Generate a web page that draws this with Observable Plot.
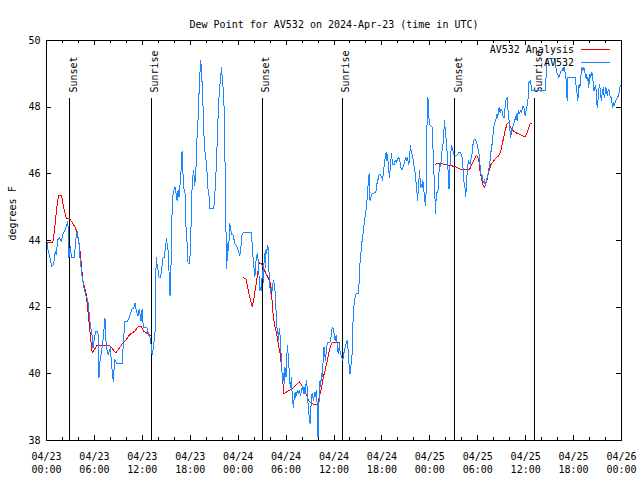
<!DOCTYPE html>
<html><head><meta charset="utf-8">
<script src="https://cdn.jsdelivr.net/npm/d3@7"></script>
<script src="https://cdn.jsdelivr.net/npm/@observablehq/plot@0.6"></script>
<style>body{margin:0;background:#fff}</style>
</head><body><div id="chart"></div>
<script>
const titleText = "Dew Point for AV532 on 2024-Apr-23 (time in UTC)";
const yLabel = "degrees F";
const startUTC = Date.UTC(2024, 3, 23, 0, 0);

// Observations (hours since 2024-04-23 00:00 UTC, degrees F)
const blueHours = [0,0.17,0.38,0.67,0.88,1.09,1.21,1.42,1.63,1.84,2.05,2.3,2.55,2.68,2.8,2.97,3.14,3.47,3.72,3.85,4.06,4.23,4.48,4.69,4.9,5.19,5.36,5.48,5.69,5.82,6.15,6.44,6.53,6.57,6.69,6.9,7.11,7.32,7.49,7.74,7.99,8.24,8.37,8.54,8.83,9.5,9.62,9.83,10.17,10.33,10.5,10.67,10.92,11.09,11.26,11.46,11.59,11.72,11.84,11.97,12.13,12.59,12.76,13.01,13.22,13.39,13.56,13.68,
13.72,13.84,13.97,14.09,14.3,14.39,14.51,14.6,14.76,14.85,14.93,15.01,15.1,15.22,15.31,15.39,15.47,15.52,15.6,15.68,15.85,15.98,16.1,16.23,16.35,16.48,16.6,16.69,16.81,16.9,16.98,17.11,17.23,17.36,17.44,17.57,17.65,17.73,17.94,18.03,18.11,18.19,18.32,18.4,18.49,18.57,18.65,18.78,18.86,18.99,19.07,19.16,19.24,19.32,19.41,19.49,19.57,19.66,19.74,19.87,19.99,20.12,20.24,20.37,20.45,20.95,21.04,21.16,21.29,21.41,21.54,21.66,21.79,21.92,22.0,22.08,22.17,22.25,22.33,22.38,22.42,22.5,22.54,22.63,22.71,22.79,22.88,
22.96,23.17,23.38,23.59,23.8,24.0,24.21,24.34,24.47,24.55,25.05,25.64,25.72,25.8,25.89,26.01,26.1,26.18,26.31,26.39,26.52,26.64,26.72,26.81,26.93,27.02,27.14,27.23,27.31,27.39,27.48,27.56,27.64,27.73,27.81,27.9,27.98,28.06,28.15,28.27,28.4,28.52,28.61,28.69,28.82,28.9,28.98,29.07,29.15,29.23,29.32,29.4,29.48,29.57,29.65,29.78,29.86,29.99,30.11,30.2,30.28,30.36,30.49,30.57,30.66,30.74,30.82,30.91,30.99,31.07,31.16,31.24,31.32,31.41,31.53,31.66,31.83,31.95,32.08,32.16,32.24,32.37,32.5,32.58,32.66,32.75,32.83,32.91,33.0,33.08,33.17,33.25,33.33,33.42,33.5,33.62,33.75,33.83,33.92,34.0,34.08,34.17,34.25,34.34,34.42,34.5,34.59,34.67,34.75,34.84,34.92,35.0,35.09,35.17,35.51,35.63,35.72,35.8,35.93,36.01,36.13,36.26,36.39,36.47,36.55,36.68,36.76,
36.97,37.09,37.26,37.39,37.51,37.68,37.8,37.93,38.01,38.14,38.27,38.35,38.43,38.52,38.64,38.77,39.06,39.19,39.27,39.4,39.52,39.69,39.81,39.94,40.06,40.19,40.31,40.4,40.44,40.52,40.61,40.77,41.15,41.28,41.36,41.49,41.57,41.7,41.78,41.86,41.99,42.07,42.2,42.32,42.45,42.53,42.62,42.7,42.82,42.95,43.08,43.2,43.28,43.37,43.54,43.66,43.79,43.95,44.12,44.29,44.41,44.54,44.71,44.87,45.0,45.12,45.21,45.33,45.46,45.54,45.67,45.79,45.88,45.96,46.13,46.25,46.38,46.46,46.55,46.63,46.71,46.8,46.88,46.97,47.05,47.13,47.22,47.3,47.38,47.47,47.55,47.59,47.68,47.76,47.84,47.93,48.3,48.39,48.47,48.55,48.64,48.72,48.8,49.01,49.1,49.18,49.27,
49.44,49.56,49.73,49.81,49.9,49.98,50.06,50.15,50.23,50.31,50.4,50.48,50.56,50.65,50.73,50.82,50.98,51.32,51.65,51.82,51.99,52.07,52.15,52.24,52.32,52.4,52.49,52.57,52.66,52.74,52.82,52.91,52.99,53.07,53.16,53.24,53.33,53.41,53.49,53.58,53.74,53.83,53.91,53.99,54.08,54.16,54.25,54.33,54.41,54.5,54.58,54.66,54.75,54.83,54.91,55.0,55.08,55.17,55.29,55.42,55.5,55.58,55.67,55.75,55.83,55.92,56.0,56.09,56.21,56.34,56.42,56.5,56.59,56.67,56.75,56.84,56.92,57.01,57.09,57.17,57.26,57.34,57.42,57.51,57.59,57.67,57.76,57.84,57.93,58.01,58.09,58.18,58.26,58.34,58.43,58.51,58.59,58.68,58.76,58.85,58.93,59.01,59.1,59.18,59.26,59.35,59.43,59.51,59.6,59.68,59.77,59.85,59.93,60.02,60.1,60.18,60.27,60.35,60.43,60.52,60.6,60.69,60.77,62.44,62.53,62.61,62.69,63.66,63.74,63.87,63.95,64.03,64.16,64.28,64.45,64.58,64.7,64.79,64.87,64.95,65.04,65.12,65.2,65.29,66.21,66.29,66.37,66.46,66.54,66.62,66.71,66.79,66.88,66.96,67.04,67.13,67.21,67.29,67.38,67.46,67.55,67.63,67.71,67.8,67.88,67.97,68.05,68.13,68.22,68.3,68.38,68.47,68.55,68.63,68.72,68.8,68.88,68.97,69.05,69.13,69.22,69.3,69.39,69.47,69.55,69.64,69.72,69.8,69.89,69.97,70.05,70.14,70.22,70.3,70.39,70.47,70.56,70.64,70.72,70.81,70.89,70.97,71.06,71.14,71.22,71.48,71.64,71.73,71.81,71.89,71.98];
const blueValues = [44.03,43.73,43.53,43.23,43.28,43.68,43.58,44.03,44.08,43.98,44.18,44.3,44.48,44.57,43.48,43.83,43.48,43.48,44.13,44.28,43.93,43.38,42.88,42.58,42.38,42.18,41.78,41.48,41.18,40.78,41.28,41.28,40.58,39.88,40.38,40.68,41.08,41.68,40.78,40.58,40.78,40.03,39.78,40.43,40.3,40.3,40.98,41.58,41.58,41.68,41.78,41.93,41.98,42.13,41.88,41.73,41.93,41.78,41.58,41.93,41.38,41.38,41.18,41.08,40.58,40.78,41.18,41.48,
43.5,43.3,43.1,42.9,42.9,43.1,43.3,43.5,43.5,43.7,43.8,44.05,43.9,43.7,43.3,42.7,42.35,43.1,43.3,44.6,45.4,45.54,45.61,45.4,45.2,45.5,45.3,45.6,45.89,46.39,46.69,45.89,45.5,45.4,44.5,44.1,43.6,43.3,43.3,44.0,44.5,45.4,45.89,46.09,45.94,45.64,45.99,46.39,47.19,47.69,48.19,48.89,49.09,49.41,49.09,48.69,48.19,47.69,46.99,46.59,46.39,45.99,45.49,45.3,44.95,44.95,45.3,45.69,46.39,47.19,48.09,48.49,48.89,49.19,48.89,48.69,48.39,47.89,46.89,45.69,44.7,44.1,43.15,43.5,43.9,43.7,44.1,
44.5,44.2,44.15,43.9,43.85,43.7,43.55,43.8,44.15,44.22,44.25,44.25,44.0,43.7,43.4,43.1,42.9,43.3,43.5,43.6,43.4,42.8,42.5,42.6,42.5,43.1,42.75,43.3,43.6,43.2,43.7,43.6,43.8,43.85,43.4,42.8,42.6,42.4,42.6,42.5,42.8,42.7,42.5,42.1,41.6,41.2,41.3,41.0,41.35,41.2,40.8,40.5,40.1,39.8,40.0,39.7,40.2,39.9,40.6,40.85,40.4,40.2,39.7,39.6,39.9,39.5,39.2,39.0,39.2,39.4,39.3,39.46,39.36,39.51,39.41,39.51,39.36,39.56,39.61,39.41,39.61,39.41,39.71,39.8,39.5,39.11,38.81,38.71,38.51,38.91,39.21,39.41,39.31,39.21,39.31,39.46,39.31,39.51,38.81,38.11,38.81,39.51,39.8,39.61,40.0,39.9,40.2,40.5,40.8,40.6,40.4,40.6,40.8,40.95,40.95,41.1,41.3,41.4,41.35,41.2,41.0,41.15,40.9,40.7,40.6,40.9,40.65,
40.5,40.4,40.65,40.8,40.9,41.0,40.6,40.1,40.0,40.3,40.6,41.4,41.8,42.1,42.3,42.4,42.42,42.9,43.4,43.7,44.0,44.3,44.6,44.8,45.0,45.4,45.8,46.0,45.4,45.2,45.3,45.4,45.44,45.49,45.69,45.79,45.94,45.99,45.99,45.94,45.89,45.79,46.09,46.29,46.59,46.64,46.39,46.59,46.19,45.89,46.29,46.61,46.39,46.29,46.29,46.39,46.34,46.44,46.49,46.34,46.14,46.14,46.24,46.39,46.49,46.39,46.49,46.29,46.34,46.84,46.69,46.59,46.49,46.29,46.09,45.79,45.49,45.19,45.49,45.79,46.09,45.79,45.59,45.69,45.59,45.79,45.59,45.39,45.19,45.04,45.59,47.39,47.49,48.29,47.89,47.49,47.39,46.79,46.29,45.79,45.29,44.8,45.39,45.49,45.69,46.29,46.19,
46.39,46.79,46.99,47.59,47.39,47.19,46.99,46.69,46.29,45.99,45.54,45.99,46.39,46.69,46.84,46.79,46.59,46.54,46.64,46.64,46.54,46.49,46.19,45.89,45.64,45.59,45.31,45.59,45.99,46.19,46.39,46.29,46.34,46.29,46.44,46.49,46.69,46.89,46.99,47.04,47.01,46.94,46.89,46.79,46.69,46.59,46.39,46.09,45.99,45.89,45.94,45.79,45.74,45.84,45.69,45.69,45.84,45.89,45.99,46.19,46.29,46.49,46.69,46.79,46.99,47.19,47.39,47.49,47.59,47.69,47.79,47.69,47.89,47.99,47.89,47.84,47.94,47.89,47.84,47.74,47.69,47.69,47.99,48.19,48.24,48.29,47.99,47.79,47.59,47.39,47.09,47.19,47.29,47.39,47.44,47.49,47.59,47.64,47.69,47.79,47.59,47.79,47.89,47.79,47.84,47.89,47.84,47.89,47.99,48.04,47.99,47.89,47.74,47.84,47.99,48.04,48.19,48.39,48.79,48.74,48.79,48.64,48.49,48.49,48.79,49.19,49.47,49.47,49.24,49.09,48.99,48.99,48.89,48.99,49.09,49.09,49.19,49.09,49.19,48.99,48.89,48.49,48.19,48.89,48.89,48.69,48.49,48.39,48.19,48.59,48.69,48.59,48.79,49.09,49.19,49.09,49.14,49.19,49.09,48.99,48.89,48.99,48.79,48.89,48.59,48.79,48.99,48.89,48.99,49.04,48.89,48.69,48.49,48.54,48.64,48.59,48.19,47.99,48.19,48.39,48.69,48.59,48.39,48.19,48.34,48.49,48.59,48.39,48.29,48.49,48.59,48.49,48.34,48.49,48.54,48.49,48.34,48.29,48.29,48.14,47.99,48.09,48.14,48.04,48.19,48.29,48.34,48.49,48.59,48.64,48.59];

// Analysis (null = gap)
const redHours = [0,0.8,1.0,1.2,1.4,1.55,1.9,2.05,2.25,2.47,2.9,3.1,3.5,3.8,4.06,4.23,4.4,4.56,4.77,4.98,5.19,5.4,5.61,5.73,6.0,6.32,7.9,8.33,8.66,9.16,9.58,10.0,10.42,11.05,11.46,11.88,12.17,12.5,13.0,
18.0,
24.63,24.97,25.26,25.55,25.76,25.97,26.22,26.47,26.64,26.93,27.14,27.48,27.77,27.98,28.15,28.27,28.4,28.61,28.82,29.02,29.23,29.44,29.57,29.74,30.07,30.49,30.91,31.32,31.66,31.95,32.24,32.58,32.87,33.21,33.62,33.92,34.17,34.46,34.67,34.88,35.17,35.38,35.59,35.84,36.76,
42.0,
48.68,49.31,50.15,50.77,51.19,51.82,52.99,53.28,53.58,53.83,54.12,54.25,54.41,54.62,54.83,55.08,55.37,55.67,56.0,56.34,56.63,56.84,57.05,57.26,57.47,57.67,57.88,58.09,58.43,58.72,59.35,59.97,60.27,60.52,60.81];
const redValues = [43.95,43.95,44.28,44.8,45.2,45.35,45.35,45.1,44.9,44.67,44.65,44.58,44.43,44.28,43.93,43.63,43.18,42.78,42.58,42.38,41.88,41.38,40.88,40.63,40.73,40.85,40.85,40.73,40.63,40.78,40.93,41.03,41.18,41.28,41.41,41.41,41.28,41.23,41.16,
null,
42.88,42.85,42.5,42.2,42.02,42.25,42.65,43.05,43.33,43.3,43.2,43.0,42.88,42.75,42.5,42.1,41.7,41.4,41.2,40.9,40.65,40.2,39.8,39.41,39.46,39.51,39.58,39.69,39.76,39.66,39.51,39.36,39.18,39.11,39.08,39.06,39.31,39.61,39.91,40.1,40.4,40.65,40.85,40.95,40.95,
null,
46.29,46.31,46.27,46.24,46.21,46.14,46.14,46.29,46.44,46.56,46.44,46.14,45.94,45.69,45.59,45.74,46.04,46.29,46.39,46.49,46.54,46.64,46.89,47.09,47.34,47.49,47.54,47.39,47.29,47.24,47.17,47.11,47.29,47.49,47.52];

const sunHours = [2.92, 13.11, 27.01, 37.03, 51.08, 61.12];
const sunLabels = ["Sunset", "Sunrise", "Sunset", "Sunrise", "Sunset", "Sunrise"];
const yTicks = [38, 40, 42, 44, 46, 48, 50];
const majorTickHours = [0, 6, 12, 18, 24, 30, 36, 42, 48, 54, 60, 66, 72];
const minorTickHours = [2, 4, 8, 10, 14, 16, 20, 22, 26, 28, 32, 34, 38, 40, 44, 46, 50, 52, 56, 58, 62, 64, 68, 70];
const seriesNames = ["AV532 Analysis", "AV532"];
const seriesColors = ["#ff0000", "#1a86ff"];

const toDate = h => new Date(startUTC + h * 3600e3);
const blue = blueHours.map((h, i) => ({t: toDate(h), v: blueValues[i]}));
const red = redHours.map((h, i) => ({t: toDate(h), v: redValues[i]}));
const sun = sunHours.map((h, i) => ({t: toDate(h), label: sunLabels[i]}));
const majors = majorTickHours.map(toDate);
const minors = minorTickHours.map(toDate);
const fmt = d3.utcFormat("%m/%d\n%H:%M");

const W = 640, H = 480, mL = 46, mR = 19, mT = 40, mB = 40;
const pw = W - mL - mR, ph = H - mT - mB;
const FONT = "DejaVu Sans Mono";
const crisp = "crispEdges";

const svg = Plot.plot({
  width: W, height: H,
  marginLeft: mL, marginRight: mR, marginTop: mT, marginBottom: mB,
  style: {fontFamily: FONT, fontSize: "10px", background: "white", color: "black"},
  x: {type: "utc", domain: [toDate(0), toDate(72)], axis: null},
  y: {domain: [38, 50], axis: null},
  marks: [
    Plot.ruleX(sun, {x: "t", stroke: "black", strokeWidth: 1, insetTop: 58, shapeRendering: crisp}),
    Plot.text(sun, {x: "t", text: "label", frameAnchor: "top", dy: 52, rotate: -90, textAnchor: "start", fill: "black"}),
    Plot.line(red, {x: "t", y: "v", stroke: seriesColors[0], strokeWidth: 1, shapeRendering: crisp}),
    Plot.line(blue, {x: "t", y: "v", stroke: seriesColors[1], strokeWidth: 1, shapeRendering: crisp}),
    Plot.ruleX(majors, {x: d => d, insetTop: ph - 5, stroke: "black", shapeRendering: crisp}),
    Plot.ruleX(majors, {x: d => d, insetBottom: ph - 5, stroke: "black", shapeRendering: crisp}),
    Plot.ruleX(minors, {x: d => d, insetTop: ph - 3, stroke: "black", shapeRendering: crisp}),
    Plot.ruleX(minors, {x: d => d, insetBottom: ph - 3, stroke: "black", shapeRendering: crisp}),
    Plot.ruleY(yTicks, {y: d => d, insetRight: pw - 5, stroke: "black", shapeRendering: crisp}),
    Plot.ruleY(yTicks, {y: d => d, insetLeft: pw - 5, stroke: "black", shapeRendering: crisp}),
    Plot.frame({stroke: "black", shapeRendering: crisp}),
    Plot.text(majors, {x: d => d, text: d => fmt(d), frameAnchor: "bottom", dy: 11, lineAnchor: "top", lineHeight: 1.24, fill: "black"}),
    Plot.text(yTicks, {y: d => d, text: d => String(d), frameAnchor: "left", dx: -6, textAnchor: "end", fill: "black"}),
    Plot.text([yLabel], {frameAnchor: "left", dx: -34, rotate: -90, fill: "black"}),
    Plot.text([titleText], {frameAnchor: "top", dy: -20, fill: "black"})
  ]
});

const g = d3.select(svg).append("g").attr("font-family", FONT).attr("font-size", 10);
seriesNames.forEach((name, i) => {
  const y = 49.5 + i * 12.8;
  g.append("text").attr("x", 574).attr("y", y).attr("dy", "0.35em").attr("text-anchor", "end").attr("fill", "black").text(name);
  g.append("line").attr("x1", 581).attr("x2", 610).attr("y1", y).attr("y2", y).attr("stroke", seriesColors[i]).attr("stroke-width", 1).attr("shape-rendering", crisp);
});

document.getElementById("chart").appendChild(svg);
</script>
</body></html>
